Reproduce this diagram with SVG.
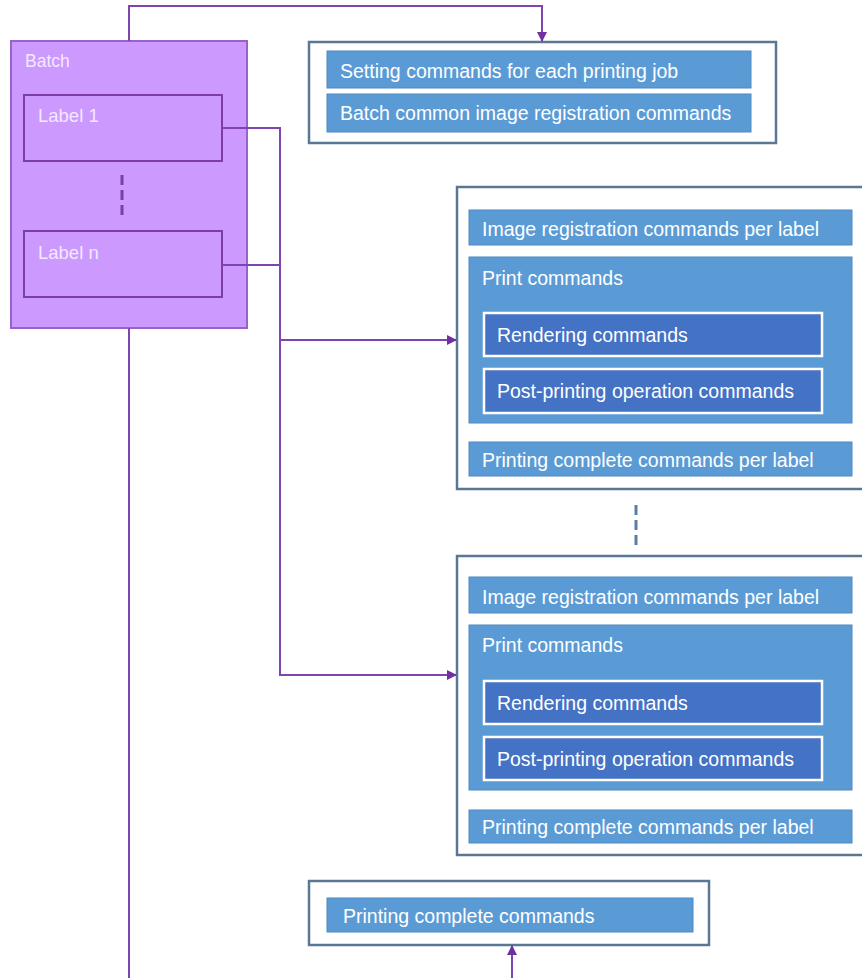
<svg xmlns="http://www.w3.org/2000/svg" width="862" height="978" viewBox="0 0 862 978">
<defs>
<marker id="arr" viewBox="0 0 10 10" refX="9" refY="5" markerWidth="10" markerHeight="10" markerUnits="userSpaceOnUse" orient="auto"><path d="M0,0 L10,5 L0,10 z" fill="#7030a0"/></marker>
<style>
.conn{fill:none;stroke:#7f44b0;stroke-width:2}
.outer{fill:#fff;stroke:#5a7896;stroke-width:2.5}
.bar{fill:#5b9bd5;stroke:#4f89c2;stroke-width:1}
.dark{fill:#4472c4;stroke:#fff;stroke-width:2.5}
.t{font-family:"Liberation Sans",Arial,sans-serif;font-size:19.5px;fill:#fff}
.pt{font-family:"Liberation Sans",Arial,sans-serif;font-size:18.5px;fill:#f3e8ff}
</style>
</defs>
<rect width="862" height="978" fill="#fff"/>
<g id="batch">
<rect x="11" y="41" width="236" height="287" fill="#cc99ff" stroke="#9a62c8" stroke-width="2"/>
<text class="pt" x="25" y="67" style="font-size:17.5px">Batch</text>
</g>
<g id="label1">
<rect x="24" y="95" width="198" height="66" fill="#cc99ff" stroke="#7a3fa0" stroke-width="2"/>
<text class="pt" x="38" y="122">Label 1</text>
</g>
<line x1="122" y1="175" x2="122" y2="216" stroke="#7a3fa0" stroke-width="3" stroke-dasharray="10,5"/>
<g id="labeln">
<rect x="24" y="231" width="198" height="66" fill="#cc99ff" stroke="#7a3fa0" stroke-width="2"/>
<text class="pt" x="38" y="259">Label n</text>
</g>
<g id="setup">
<rect class="outer" x="309" y="42" width="467" height="101"/>
<rect class="bar" x="327" y="51" width="424" height="37"/>
<text class="t" x="340" y="78">Setting commands for each printing job</text>
<rect class="bar" x="327" y="94" width="424" height="38"/>
<text class="t" x="340" y="120">Batch common image registration commands</text>
</g>
<g id="labelcmds1">
<rect class="outer" x="457" y="187" width="410" height="302"/>
<rect class="bar" x="469" y="210" width="383" height="35"/>
<text class="t" x="482" y="236">Image registration commands per label</text>
<rect class="bar" x="469" y="257" width="383" height="166"/>
<text class="t" x="482" y="285">Print commands</text>
<rect class="dark" x="484" y="313" width="338" height="43"/>
<text class="t" x="497" y="342">Rendering commands</text>
<rect class="dark" x="484" y="369" width="338" height="44"/>
<text class="t" x="497" y="398">Post-printing operation commands</text>
<rect class="bar" x="469" y="442" width="383" height="34"/>
<text class="t" x="482" y="467">Printing complete commands per label</text>
</g>
<line x1="636" y1="505" x2="636" y2="546" stroke="#5a7fa6" stroke-width="3" stroke-dasharray="10,5"/>
<g id="labelcmdsn">
<rect class="outer" x="457" y="556" width="410" height="299"/>
<rect class="bar" x="469" y="577" width="383" height="36"/>
<text class="t" x="482" y="604">Image registration commands per label</text>
<rect class="bar" x="469" y="625" width="383" height="165"/>
<text class="t" x="482" y="652">Print commands</text>
<rect class="dark" x="484" y="681" width="338" height="43"/>
<text class="t" x="497" y="710">Rendering commands</text>
<rect class="dark" x="484" y="737" width="338" height="43"/>
<text class="t" x="497" y="766">Post-printing operation commands</text>
<rect class="bar" x="469" y="810" width="383" height="33"/>
<text class="t" x="482" y="834">Printing complete commands per label</text>
</g>
<g id="complete">
<rect class="outer" x="309" y="881" width="400" height="64"/>
<rect class="bar" x="327" y="898" width="366" height="34"/>
<text class="t" x="343" y="923">Printing complete commands</text>
</g>
<g id="connectors">
<path class="conn" d="M129,41 V6 H542 V41" marker-end="url(#arr)"/>
<path class="conn" d="M222,128 H280 V675 H456" marker-end="url(#arr)"/>
<path class="conn" d="M222,265 H280"/>
<path class="conn" d="M280,340 H456" marker-end="url(#arr)"/>
<path class="conn" d="M129,328 V978"/>
<path class="conn" d="M512,978 V946" marker-end="url(#arr)"/>
</g>
</svg>
